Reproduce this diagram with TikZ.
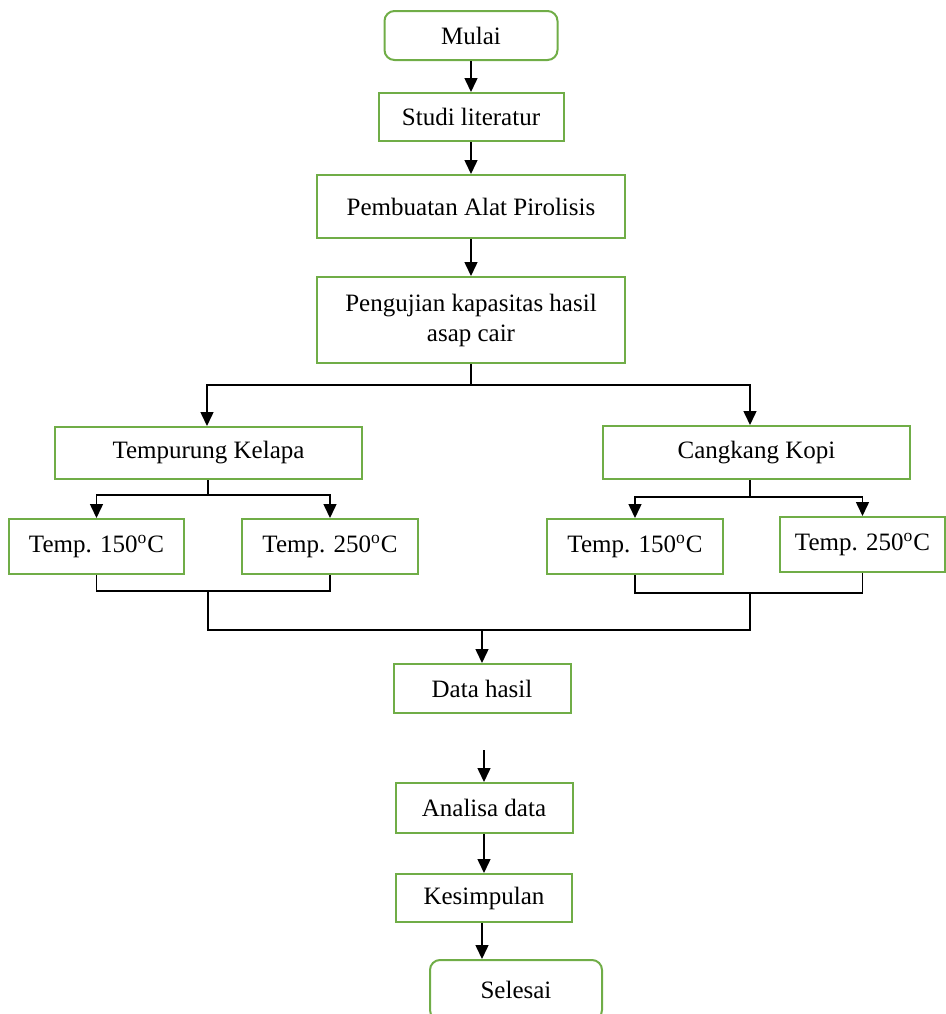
\documentclass[tikz,border=0pt]{standalone}
\usepackage{fontspec}
\setmainfont{Liberation Serif}
\usepackage{tikz}
\usetikzlibrary{arrows.meta}
\definecolor{hijau}{RGB}{112,173,71}

\begin{document}
\begin{tikzpicture}[x=0.5pt,y=-0.5pt,
	kotak/.style={draw=hijau,line width=1pt,inner sep=0pt,align=center,font=\fontsize{12.5}{15}\selectfont},
	bulat/.style={kotak,rounded corners=5pt},
	garis/.style={line width=0.75pt},
	panah/.style={garis,-{Triangle[length=7pt,width=6.5pt]}}]
\useasboundingbox (0,0) rectangle (946,1014);
\clip (0,0) rectangle (946,1014);
\node[bulat,minimum width=86.5pt,minimum height=24.5pt] (mulai) at (471,35.5) {Mulai};
\node[kotak,minimum width=92.5pt,minimum height=24pt] (studi) at (471,117) {Studi literatur};
\node[kotak,minimum width=154pt,minimum height=31.5pt] (alat) at (471,206.5) {Pembuatan Alat Pirolisis};
\node[kotak,minimum width=154pt,minimum height=43pt] (uji) at (471,320) {Pengujian kapasitas hasil\\asap cair};
\node[kotak,minimum width=153.5pt,minimum height=26pt] (kelapa) at (208.5,453) {Tempurung Kelapa};
\node[kotak,minimum width=153.5pt,minimum height=26.5pt] (kopi) at (756.5,452.5) {Cangkang Kopi};
\node[kotak,minimum width=87.5pt,minimum height=27.5pt] (kA) at (96.5,546.5) {Temp. 150\textsuperscript{o}C};
\node[kotak,minimum width=88pt,minimum height=27.5pt] (kB) at (330,546.5) {Temp. 250\textsuperscript{o}C};
\node[kotak,minimum width=88pt,minimum height=27.5pt] (pA) at (635,546.5) {Temp. 150\textsuperscript{o}C};
\node[kotak,minimum width=82.5pt,minimum height=27.5pt] (pB) at (862.5,544.5) {Temp. 250\textsuperscript{o}C};
\node[kotak,minimum width=88.5pt,minimum height=24.5pt] (data) at (482,688.5) {Data hasil};
\node[kotak,minimum width=88.5pt,minimum height=25pt] (analisa) at (484,808) {Analisa data};
\node[kotak,minimum width=88pt,minimum height=24pt] (simpul) at (484,898) {Kesimpulan};
\node[bulat,minimum width=86pt,minimum height=30pt] (selesai) at (516,990) {Selesai};
\coordinate (cabang) at (471,385);
\coordinate (cabangK) at (208,495);
\coordinate (cabangP) at (750,497);
\coordinate (gabungK) at (208,591);
\coordinate (gabungP) at (750,593);
\coordinate (gabung) at (482,630);
\coordinate (lepas) at (484,750);
\draw[panah] (mulai) -- (studi);
\draw[panah] (studi) -- (alat);
\draw[panah] (alat) -- (uji);
\draw[garis] (uji) -- (cabang);
\draw[panah] (cabang) -| (kelapa.north -| 207,0);
\draw[panah] (cabang) -| (kopi.north -| cabangP);
\draw[garis] (kelapa.south -| cabangK) -- (cabangK);
\draw[panah] (cabangK) -| (kA.north);
\draw[panah] (cabangK) -| (kB.north);
\draw[garis] (kopi.south -| cabangP) -- (cabangP);
\draw[panah] (cabangP) -| (pA.north);
\draw[panah] (cabangP) -| (pB.north);
\draw[garis] (kA.south) |- (gabungK) -| (kB.south);
\draw[garis] (pA.south) |- (gabungP) -| (pB.south);
\draw[garis] (gabungK) |- (gabung) -| (gabungP);
\draw[panah] (gabung) -- (data);
\draw[panah] (lepas) -- (analisa);
\draw[panah] (analisa) -- (simpul);
\draw[panah] (simpul.south -| 482,0) -- (selesai.north -| 482,0);
\end{tikzpicture}
\end{document}
